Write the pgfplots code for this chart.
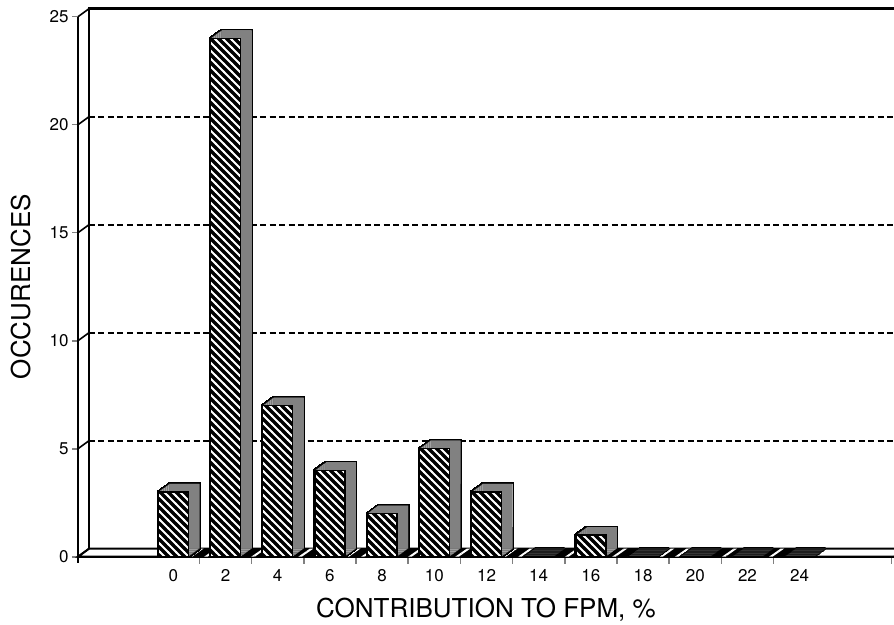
\documentclass[border=0pt]{standalone}
\usepackage{fontspec}
\setmainfont{TeX Gyre Heros}
\usepackage{pgfplots}
\pgfplotsset{compat=1.18}
\usepackage{pgfplotstable}
\usetikzlibrary{patterns,patterns.meta}

% occurrences per 2% bin of contribution to FPM (bin index 0..12 -> 0..24 %)
\pgfplotstableread{
x y
0 3
1 24
2 7
3 4
4 2
5 5
6 3
7 0
8 1
9 0
10 0
11 0
12 0
}\counts

% wide "\\\\" hatch for the bar fronts
\pgfdeclarepatternformonly{bighatch}{\pgfqpoint{-1pt}{-1pt}}{\pgfqpoint{9pt}{9pt}}{\pgfqpoint{8pt}{8pt}}{%
  \pgfsetlinewidth{1.8pt}%
  \pgfpathmoveto{\pgfqpoint{-1pt}{9pt}}\pgfpathlineto{\pgfqpoint{9pt}{-1pt}}%
  \pgfusepath{stroke}}

\tikzset{
  hatchface/.style={fill=black, postaction={pattern color=white, pattern=bighatch}},
  dotface/.style={fill=white, postaction={pattern color=black, pattern={Dots[distance=2pt,radius=0.85pt]}}},
  slashface/.style={fill=black, postaction={pattern color=white, pattern={Lines[angle=35,distance=9pt,line width=2pt]}}},
  back/.style={shift={(11pt,8pt)}},
}

\begin{document}
\begin{tikzpicture}
\begin{axis}[
  scale only axis, width=816pt, height=540pt,
  xmin=-1.826, xmax=13.807, ymin=0, ymax=25,
  clip=false,
  axis x line*=bottom, axis y line*=left,
  axis line style={line width=2.4pt, -},
  tick align=outside,
  xtick={0,...,12},
  xticklabels={0,2,4,6,8,10,12,14,16,18,20,22,24},
  major x tick style={draw=none},
  minor xtick={0.5,1.5,...,11.5,13.76},
  minor tick length=7pt,
  minor x tick style={line width=1.6pt},
  ytick={0,5,...,25},
  major tick length=6pt,
  major y tick style={line width=1.6pt},
  ticklabel style={font=\fontsize{17}{17}\selectfont},
  xticklabel style={yshift=-3pt},
  /pgf/number format/assume math mode=true,
  xlabel={CONTRIBUTION TO FPM, \%},
  ylabel={OCCURENCES},
  label style={font=\fontsize{26}{26}\selectfont},
  xlabel style={yshift=-10pt},
  ylabel style={yshift=12pt},
]
\coordinate (O) at (rel axis cs:0,0);

% floor slab and back wall
\draw[line width=2pt, fill=white] (axis cs:-1.826,0) -- (axis cs:13.807,0)
  -- ([back]axis cs:13.807,0) -- ([back]axis cs:-1.826,0) -- cycle;
\path[slashface] (axis cs:-0.29,0) -- (axis cs:12.29,0)
  -- ([back]axis cs:12.29,0) -- ([back]axis cs:-0.29,0) -- cycle;
\draw[line width=2.4pt] ([back]axis cs:-1.826,0) -- ([back]axis cs:-1.826,25)
  -- ([back]axis cs:13.807,25) -- ++(20pt,0pt);
\draw[line width=2.4pt] (axis cs:-1.826,0) -- ++(0pt,-6pt);

% dashed grid on the back wall, slanted tick connectors
\pgfplotsinvokeforeach{5,10,15,20}{
  \draw[line width=2pt, dash pattern=on 6pt off 3.5pt]
    ([back]axis cs:-1.826,#1) -- ([back]axis cs:13.807,#1) -- ++(20pt,0pt);
}
\pgfplotsinvokeforeach{0,5,10,15,20,25}{
  \draw[line width=1.6pt] (axis cs:-1.826,#1) -- ++(11pt,8pt);
}

% 3D bars: black silhouette, stippled top/side, hatched front
\pgfplotsinvokeforeach{0,...,11}{
  \addplot[ybar, bar width=30pt, bar shift=0pt, fill=black, draw=black,
    line width=3pt, xshift=#1pt, yshift=#1*0.7273pt] table[x=x,y=y]{\counts};
}
\pgfplotsinvokeforeach{1,...,11}{
  \addplot[ybar, bar width=30pt, bar shift=0pt, draw=none, dotface,
    xshift=#1pt, yshift=#1*0.7273pt] table[x=x,y=y]{\counts};
}
\addplot[ybar, bar width=30pt, bar shift=0pt, hatchface, draw=black,
  line width=1.5pt] table[x=x,y=y]{\counts};
\end{axis}
\pgfresetboundingbox
\path[use as bounding box] ([shift={(-78pt,-67.3pt)}]O) rectangle ([shift={(816pt,556.7pt)}]O);
\end{tikzpicture}
\end{document}
